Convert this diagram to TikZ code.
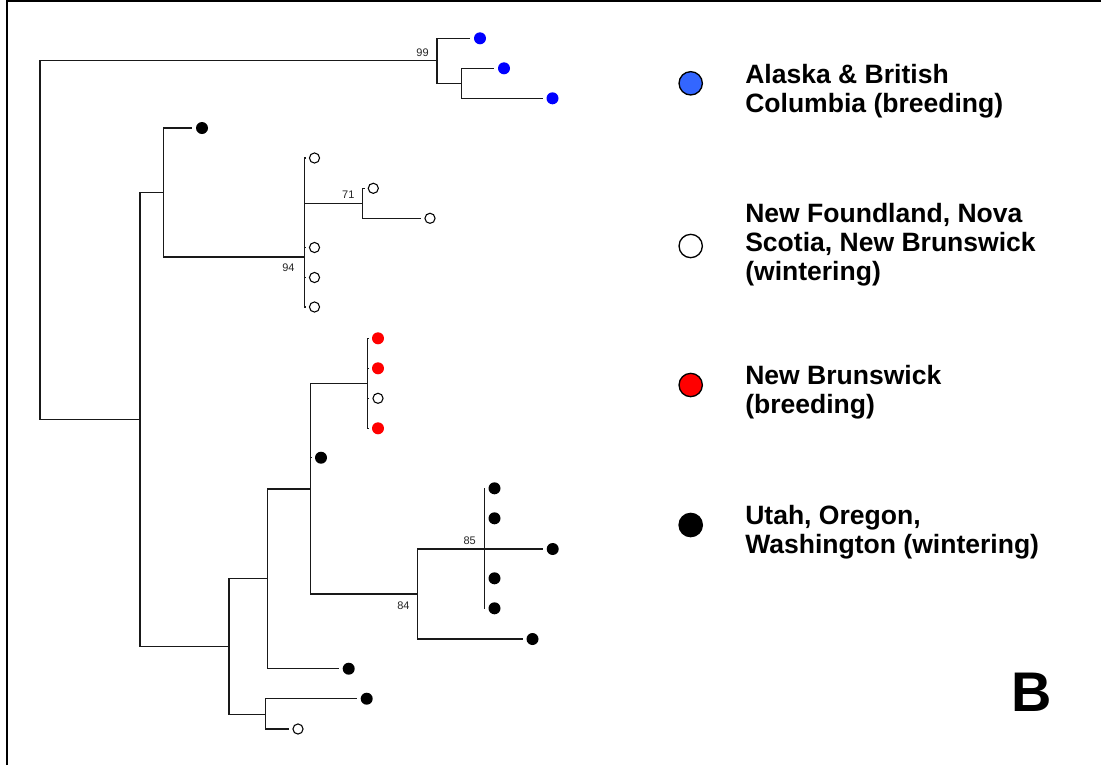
\documentclass[tikz,border=0pt]{standalone}
\usepackage{fontspec}
\setmainfont{Liberation Sans}
\definecolor{lblue}{RGB}{51,102,255}
\begin{document}
\begin{tikzpicture}[x=0.75pt,y=-0.75pt,
  br/.style={draw=black!90, line width=0.85pt},
  leaf/.style={circle, inner sep=0pt, minimum size=9pt, outer sep=2.8pt},
  blk/.style={leaf, fill=black},
  blu/.style={leaf, fill=blue},
  rd/.style={leaf, fill=red},
  wht/.style={leaf, draw=black, fill=white, line width=0.8pt, minimum size=7.6pt},
  bs/.style={font=\fontsize{8.25pt}{10pt}\selectfont, anchor=base, inner sep=0pt, text=black!85},
  lgd/.style={circle, draw=black, line width=1pt, minimum size=17.5pt, inner sep=0pt},
  lgt/.style={anchor=base west, inner sep=0pt, font=\bfseries\fontsize{19.9pt}{21.75pt}\selectfont}]
\path[use as bounding box, fill=white] (0,0) rectangle (1101,765);
\draw[line width=1.6pt] (6.7,765) -- (6.7,1) -- (1101,1);

% internal nodes
\coordinate (root) at (40,240);
\coordinate (n99) at (437,60.7);
\coordinate (nB) at (461.3,83.3);
\coordinate (nA) at (140,419.3);
\coordinate (nC) at (163.2,192.3);
\coordinate (n94) at (304.4,257);
\coordinate (n71) at (362.3,203.3);
\coordinate (nD) at (229,646.7);
\coordinate (nE) at (267.1,578.7);
\coordinate (nF) at (265.5,714.3);
\coordinate (nG) at (310.7,489);
\coordinate (nR) at (367.7,383.3);
\coordinate (n84) at (417.5,594);
\coordinate (n85) at (484.3,549);

% leaves
\node[blu] (b1) at (480,38.3) {};
\node[blu] (b2) at (504,68.3) {};
\node[blu] (b3) at (552.5,98.3) {};
\node[blk] (k1) at (202,128) {};
\node[wht] (w1) at (314.5,158) {};
\node[wht] (w2) at (314.5,247.5) {};
\node[wht] (w3) at (314.5,277.5) {};
\node[wht] (w4) at (314.5,307) {};
\node[wht] (w5) at (373.3,188.3) {};
\node[wht] (w6) at (430,218.3) {};
\node[rd] (r1) at (378,338.3) {};
\node[rd] (r2) at (378,368.3) {};
\node[wht] (w7) at (378,398.3) {};
\node[rd] (r3) at (378,428.3) {};
\node[blk] (k2) at (321,457.7) {};
\node[blk] (k3) at (494.5,488.3) {};
\node[blk] (k4) at (494.5,518.3) {};
\node[blk] (k5) at (552.7,549) {};
\node[blk] (k6) at (494.5,578.3) {};
\node[blk] (k7) at (494.5,608.3) {};
\node[blk] (k8) at (532.5,639) {};
\node[blk] (k9) at (348.7,668.7) {};
\node[blk] (k10) at (366.7,698.7) {};
\node[wht] (w8) at (298,729) {};

% branches between internal nodes
\foreach \p/\c in {root/n99, root/nA, n99/nB, nA/nC, nA/nD, nC/n94, n94/n71,
                   nD/nE, nD/nF, nE/nG, nG/nR, nG/n84, n84/n85}
  \draw[br] (\p) |- (\c);
% branches to leaves
\foreach \p/\c in {n99/b1, nB/b2, nB/b3, nC/k1, n94/w1, n94/w2, n94/w3, n94/w4,
                   n71/w5, n71/w6, nR/r1, nR/r2, nR/w7, nR/r3, nG/k2,
                   n85/k3, n85/k4, n85/k5, n85/k6, n85/k7, n84/k8, nE/k9,
                   nF/k10, nF/w8}
  \draw[br] (\p) |- (\c.west);

% support values
\node[bs] (s99) at (422.5,56) {99};
\node[bs] (s71) at (348.3,198.3) {71};
\node[bs] (s94) at (288.5,271.7) {94};
\node[bs] (s85) at (469.7,544.3) {85};
\node[bs] (s84) at (403.4,609.3) {84};

% legend
\node[lgd, fill=lblue] (L1) at (690.7,83.3) {};
\node[lgd, fill=white] (L2) at (690.7,246) {};
\node[lgd, fill=red] (L3) at (690.7,385) {};
\node[lgd, fill=black] (L4) at (690.7,525) {};
\node[lgt] (T1) at (745,83.3) {\parbox[t]{240pt}{Alaska \& British\\Columbia (breeding)}};
\node[lgt] (T2) at (745,222) {\parbox[t]{240pt}{New Foundland, Nova\\Scotia, New Brunswick\\(wintering)}};
\node[lgt] (T3) at (745,384.3) {\parbox[t]{240pt}{New Brunswick\\(breeding)}};
\node[lgt] (T4) at (745,524) {\parbox[t]{240pt}{Utah, Oregon,\\Washington (wintering)}};

\node[anchor=base west, inner sep=0pt, font=\bfseries\fontsize{41.9pt}{45pt}\selectfont] (B) at (1011,711.7) {B};
\end{tikzpicture}
\end{document}
